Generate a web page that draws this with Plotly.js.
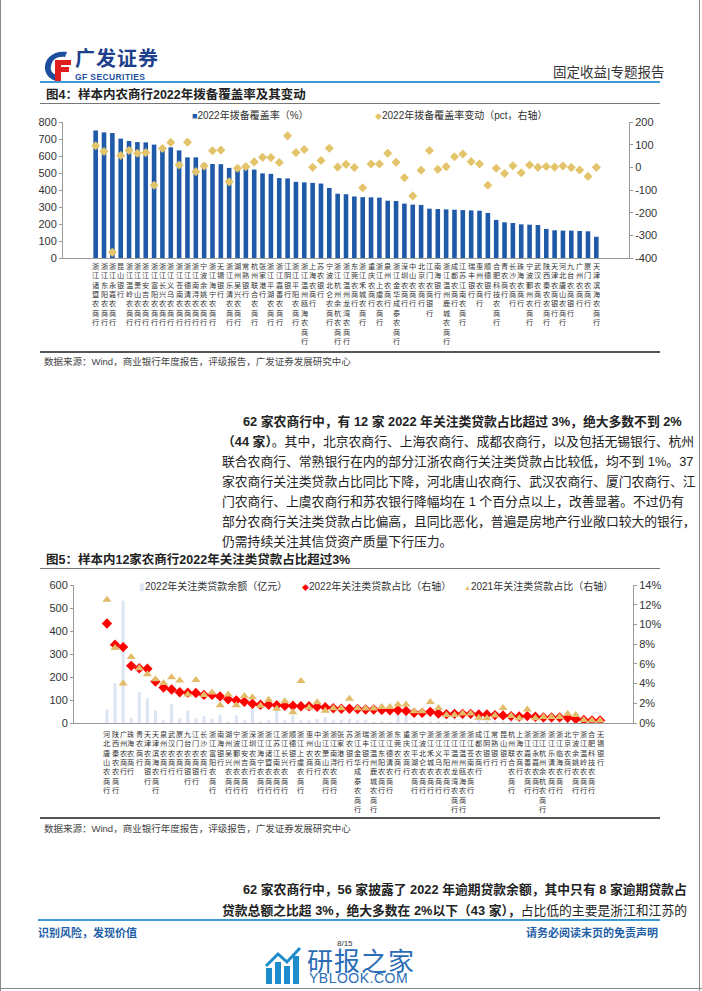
<!DOCTYPE html>
<html><head><meta charset="utf-8">
<script src="https://cdn.plot.ly/plotly-3.0.1.min.js"></script>
<style>
body{margin:0;background:#fff;}
#page{position:relative;width:702px;height:991px;overflow:hidden;background:#fff;font-family:"Liberation Sans","Noto Sans CJK SC",sans-serif;color:#222;}
.abs{position:absolute;white-space:nowrap;}
.line{position:absolute;}
.para{position:absolute;left:222px;width:438px;font-size:12.8px;text-align:justify;text-align-last:justify;white-space:nowrap;font-family:"Liberation Sans","Noto Sans CJK SC",sans-serif;color:#222;}
.b{font-weight:bold;}
.figt{font-size:12.5px;font-weight:bold;color:#222;font-family:"Liberation Sans","Noto Sans CJK SC",sans-serif;}
.src{font-size:9.5px;color:#444;}
</style></head>
<body><div id="page">
<div class="line" style="left:0;top:0;width:1px;height:991px;background:#888"></div>
<div class="line" style="left:699px;top:0;width:1px;height:991px;background:#888"></div>
<div class="line" style="left:0;top:988px;width:702px;height:1px;background:#888"></div>

<svg class="abs" style="left:40px;top:48px" width="34" height="34" viewBox="0 0 34 34">
<path d="M27 4 C14 2 4 10 5 21 C6 28 11 32 17 33 L17 27 C12 26 10 22 11 18 C12 11 18 8 25 9 Z" fill="#1D4E9E"/>
<path d="M15 12 H31 V17 H21 V19 H29 V24 H21 V33 H15 Z" fill="#E02020"/>
</svg>
<div class="abs" style="left:75px;top:48px;font-size:20px;line-height:22px;font-weight:bold;color:#1D3F8C;letter-spacing:1px;">广发证券</div>
<div class="abs" style="left:75px;top:72px;font-size:8.5px;line-height:10px;font-weight:bold;color:#1D4E9E;letter-spacing:0.4px;">GF SECURITIES</div>
<div class="abs" style="left:553px;top:61px;font-size:13.5px;color:#333;">固定收益|专题报告</div>
<div class="line" style="left:40px;top:81px;width:620px;height:2px;background:#3D9AD5"></div>

<div class="abs figt" style="left:46px;top:84px;">图4：样本内农商行2022年拨备覆盖率及其变动</div>
<div class="line" style="left:40px;top:103px;width:620px;height:1px;background:#777"></div>
<div id="c4" class="abs" style="left:30px;top:105px;width:640px;height:245px;"></div>
<div class="line" style="left:40px;top:351px;width:620px;height:1.5px;background:#555"></div>
<div class="abs src" style="left:44px;top:354px;">数据来源：Wind，商业银行年度报告，评级报告，广发证券发展研究中心</div>

<div class="para b" style="top:411px;left:243px;width:417px;">62 家农商行中，有 12 家 2022 年关注类贷款占比超过 3%，绝大多数不到 2%</div>
<div class="para" style="top:431px;"><span class="b">（44 家）</span>。其中，北京农商行、上海农商行、成都农商行，以及包括无锡银行、杭州</div>
<div class="para" style="top:451px;">联合农商行、常熟银行在内的部分江浙农商行关注类贷款占比较低，均不到 1%。37</div>
<div class="para" style="top:471px;">家农商行关注类贷款占比同比下降，河北唐山农商行、武汉农商行、厦门农商行、江</div>
<div class="para" style="top:491px;">门农商行、上虞农商行和苏农银行降幅均在 1 个百分点以上，改善显著。不过仍有</div>
<div class="para" style="top:511px;">部分农商行关注类贷款占比偏高，且同比恶化，普遍是房地产行业敞口较大的银行，</div>
<div class="para" style="top:531px;text-align-last:left;">仍需持续关注其信贷资产质量下行压力。</div>

<div class="abs figt" style="left:46px;top:549px;">图5：样本内12家农商行2022年关注类贷款占比超过3%</div>
<div class="line" style="left:40px;top:568px;width:620px;height:1px;background:#777"></div>
<div id="c5" class="abs" style="left:30px;top:570px;width:640px;height:245px;"></div>
<div class="line" style="left:40px;top:817px;width:620px;height:1.5px;background:#555"></div>
<div class="abs src" style="left:44px;top:821px;">数据来源：Wind，商业银行年度报告，评级报告，广发证券发展研究中心</div>

<div class="para b" style="top:879px;left:243px;width:417px;">62 家农商行中，56 家披露了 2022 年逾期贷款余额，其中只有 8 家逾期贷款占</div>
<div class="para" style="top:900px;"><span class="b">贷款总额之比超 3%，绝大多数在 2%以下（43 家），</span>占比低的主要是浙江和江苏的</div>
<div class="line" style="left:38px;top:919px;width:622px;height:2px;background:#3D9AD5"></div>
<div class="abs" style="left:38px;top:924px;font-size:11px;font-weight:bold;color:#1F5FA8;">识别风险，发现价值</div>
<div class="abs" style="left:526px;top:924px;font-size:11px;font-weight:bold;color:#1F5FA8;">请务必阅读末页的免责声明</div>
<div class="abs" style="left:337px;top:939px;font-size:8px;color:#333;">8/15</div>
<svg class="abs" style="left:264px;top:946px" width="40" height="38" viewBox="0 0 40 38">
<rect x="2" y="22" width="6" height="16" fill="#1E8BCB"/>
<rect x="11" y="16" width="6" height="22" fill="#1E8BCB"/>
<rect x="20" y="20" width="6" height="18" fill="#1E8BCB"/>
<rect x="29" y="10" width="6" height="28" fill="#1E8BCB"/>
<path d="M2 20 L14 8 L23 16 L36 2" stroke="#1E8BCB" stroke-width="3" fill="none"/>
</svg>
<div class="abs" style="left:307px;top:941px;font-size:26px;color:#2A6DB5;letter-spacing:1px;font-family:'Noto Sans CJK SC';">研报之家</div>
<div class="abs" style="left:309px;top:970px;font-size:14px;color:#2A6DB5;letter-spacing:0.5px;">YBLOOK.COM</div>
</div>

<script>
// ---------- Figure 4 data ----------
const labels4 = ["浙江诸暨农商行","浙江东阳农商行","浙江永嘉农商行","昆山银行","浙江温岭农商行","浙江萧山农商行","浙江安吉农商行","浙江富阳农商行","浙江长兴农商行","浙江义乌农商行","浙江苍南农商行","浙江德清农商行","浙江南浔农商行","宁波余姚农商行","浙江海宁农商行","无锡银行","浙江乐清农商行","湖州吴兴农商行","常熟银行","杭州联合农商行","张家港行","浙江平湖农商行","浙江嘉善农商行","江阴银行","浙江平阳农商行","浙江温州瓯海农商行","上海农商行","苏农银行","宁波北仑农商行","浙江杭州余杭农商行","浙江温州龙湾农商行","东莞农商行","浙江禾城农商行","重庆农商行","浙江上虞农商行","泉州农商行","浙江金华成泰农商行","深圳农商行","中山农商行","北京农商行","江门农商银行","南海银行","浙江温州鹿城农商行","成都农商行","江苏江南农商行","瑞丰银行","惠州农商行","顺德银行","合肥科技农商行","青农商行","长沙农商行","珠海农商行","宁波鄞州农商行","武汉农商行","陕西秦农农商行","天津农商银行","河北唐山农商行","九台农商银行","广州农商行","厦门农商行","天津滨海农商行"];
const coverage2022 = [750,739,735,702,688,682,680,667,653,651,633,592,592,559,553,552,530,530,528,520,498,495,470,468,448,445,442,438,412,378,375,362,358,357,355,337,335,320,314,312,290,288,286,284,282,280,278,265,224,210,206,198,196,194,171,163,161,161,159,157,125];
const coverageChange = [95,70,-375,52,74,62,65,-79,83,110,10,111,-19,6,73,76,-64,-4,3,24,44,43,21,139,65,79,0,30,84,1,13,-1,-90,15,15,62,22,-46,-126,-13,74,-9,3,47,59,25,15,-79,-4,-27,7,-24,10,0,4,1,6,-1,-12,-40,0];
const leftTicks4 = [0,100,200,300,400,500,600,700,800];
const rightTicks4 = [-400,-300,-200,-100,0,100,200];

// ---------- Figure 5 data ----------
const labels5 = ["河北唐山农商行","陕西秦农农商行","广州农商行","珠海农商行","青农商行","天津农商银行","天津滨海农商行","泉州农商行","武汉农商行","厦门农商行","九台农商银行","江门农商银行","长沙农商行","浙江富阳农商行","南海银行","湖州吴兴农商行","宁波鄞州农商行","浙江安吉农商行","深圳农商行","浙江海宁农商行","浙江诸暨农商行","江苏江南农商行","浙江长兴农商行","顺德银行","浙江上虞农商行","惠州农商行","中山农商行","浙江萧山农商行","浙江南浔农商行","张家港行","苏农银行","浙江金华成泰农商行","瑞丰银行","浙江温州鹿城农商行","浙江东阳农商行","浙江德清农商行","东莞农商行","重庆农商行","浙江平湖农商行","宁波北仑农商行","浙江禾城农商行","浙江义乌农商行","浙江平阳农商行","浙江温州龙湾农商行","浙江温州瓯海农商行","浙江苍南农商行","成都农商行","江阴银行","常熟银行","昆山银行","杭州联合农商行","上海农商行","浙江嘉善农商行","浙江永嘉农商行","浙江杭州余杭农商行","浙江乐清农商行","浙江临海农商行","北京农商行","宁波余姚农商行","浙江温岭农商行","合肥科技农商行","无锡银行"];
const smBalance2022 = [58,173,532,22,134,108,55,12,82,22,55,22,29,19,36,7,33,12,80,7,12,62,12,36,12,12,17,25,12,14,19,12,13,5,8,5,40,45,5,5,8,8,4,3,4,4,15,8,10,6,12,15,4,3,6,4,3,12,3,3,3,4];
const smRatio2022 = [10.1,7.95,7.7,5.8,5.55,5.5,4.2,3.6,3.4,3.12,3.08,3.05,2.85,2.85,2.7,2.4,2.3,2.15,1.95,1.85,1.85,1.8,1.75,1.75,1.7,1.7,1.65,1.6,1.5,1.45,1.45,1.42,1.37,1.37,1.33,1.3,1.3,1.23,1.03,1.03,1.13,0.97,0.9,0.93,0.93,0.93,0.87,0.87,0.8,0.77,0.7,0.67,0.7,0.63,0.57,0.57,0.57,0.53,0.4,0.3,0.25,0.25];
const smRatio2021 = [12.5,7.6,4.0,6.7,5.55,4.95,4.45,4.05,4.65,4.3,2.9,4.35,2.85,3.1,1.8,2.9,1.8,2.75,2.6,1.75,2.35,1.45,2.2,1.1,4.25,1.55,2.1,1.25,1.5,1.5,2.45,1.5,1.47,1.47,1.63,1.63,1.87,1.87,1.2,1.2,2.13,1.53,0.8,0.8,0.97,0.97,0.53,0.47,0.77,1.53,0.7,0.47,1.37,0.47,0.6,0.6,0.6,0.93,0.8,0.3,0.25,0.25];

// vertical (stacked) category labels: one text per category, one character per line
function stackedLabels(labels, off, size) {
  return labels.map(function (lab) {
    return {x: lab, y: 0, xref: 'x', yref: 'paper', text: Array.from(lab).join('<br>'), showarrow: false,
      xanchor: 'center', yanchor: 'top', yshift: -off, borderpad: 0, align: 'center',
      font: {size: size, color: '#333', family: 'Noto Sans CJK SC'}};
  });
}
function legendItem(x, y, sym, color, symSize, text) {
  return {x: x, y: y, xref: 'paper', yref: 'paper', xanchor: 'left', yanchor: 'middle', showarrow: false,
    text: '<span style="color:' + color + ';font-size:' + symSize + 'px">' + sym + '</span>' + text,
    font: {size: 10, color: '#333', family: 'Liberation Sans, Noto Sans CJK SC'}};
}
const axisBase = {showgrid: false, zeroline: false, showline: true, linecolor: '#9a9a9a', linewidth: 1,
  ticks: 'outside', ticklen: 3, tickcolor: '#9a9a9a', tickfont: {size: 11, color: '#333', family: 'Liberation Sans'}};

const blue4 = '#1E5AA8', gold4 = '#E4C46B';
Plotly.newPlot('c4', [
  {type: 'bar', x: labels4, y: coverage2022, marker: {color: blue4}, name: '2022年拨备覆盖率（%）'},
  {type: 'scatter', mode: 'markers', x: labels4, y: coverageChange, yaxis: 'y2', marker: {symbol: 'diamond', size: 7, color: gold4}, name: '2022年拨备覆盖率变动（pct，右轴）'}
], {
  width: 640, height: 245, margin: {l: 33.3, r: 40.7, t: 17.3, b: 91.7},
  paper_bgcolor: 'rgba(0,0,0,0)', plot_bgcolor: 'rgba(0,0,0,0)', showlegend: false, bargap: 0.45,
  font: {family: 'Liberation Sans, Noto Sans CJK SC'},
  xaxis: {type: 'category', showticklabels: false, showline: true, linecolor: '#9a9a9a', ticks: '', showgrid: false, zeroline: false},
  yaxis: Object.assign({}, axisBase, {range: [0, 800], tickvals: leftTicks4, ticktext: leftTicks4.map(String)}),
  yaxis2: Object.assign({}, axisBase, {overlaying: 'y', side: 'right', range: [-400, 200], tickvals: rightTicks4, ticktext: rightTicks4.map(String)}),
  annotations: [
    legendItem(0.225, 1.055, '■', blue4, 9, '2022年拨备覆盖率（%）'),
    legendItem(0.547, 1.055, '◆', gold4, 7, '2022年拨备覆盖率变动（pct，右轴）')
  ].concat(stackedLabels(labels4, 1.5, 7.2))
}, {staticPlot: true});

const bar5 = '#DCE6F2', red5 = '#FF0000', gold5 = '#E2BC6A';
Plotly.newPlot('c5', [
  {type: 'bar', x: labels5, y: smBalance2022, marker: {color: bar5}, name: '2022年关注类贷款余额（亿元）'},
  {type: 'scatter', mode: 'markers', x: labels5, y: smRatio2022, yaxis: 'y2', marker: {symbol: 'diamond', size: 8, color: red5}, name: '2022年关注类贷款占比（右轴）'},
  {type: 'scatter', mode: 'markers', x: labels5, y: smRatio2021, yaxis: 'y2', marker: {symbol: 'triangle-up', size: 8, color: gold5}, name: '2021年关注类贷款占比（右轴）'}
], {
  width: 640, height: 245, margin: {l: 44.3, r: 37.3, t: 15, b: 91.7},
  paper_bgcolor: 'rgba(0,0,0,0)', plot_bgcolor: 'rgba(0,0,0,0)', showlegend: false, bargap: 0.62,
  font: {family: 'Liberation Sans, Noto Sans CJK SC'},
  xaxis: {type: 'category', showticklabels: false, showline: true, linecolor: '#9a9a9a', ticks: '', showgrid: false, zeroline: false},
  yaxis: Object.assign({}, axisBase, {range: [0, 600], dtick: 100}),
  yaxis2: Object.assign({}, axisBase, {overlaying: 'y', side: 'right', range: [0, 14], dtick: 2, ticksuffix: '%'}),
  annotations: [
    legendItem(0.112, 0.99, '▮', bar5, 10, '2022年关注类贷款余额（亿元）'),
    legendItem(0.404, 0.99, '◆', red5, 7, '2022年关注类贷款占比（右轴）'),
    legendItem(0.694, 0.99, '▲', gold5, 7, '2021年关注类贷款占比（右轴）')
  ].concat(stackedLabels(labels5, 5, 7.2))
}, {staticPlot: true});
</script>
</body></html>
